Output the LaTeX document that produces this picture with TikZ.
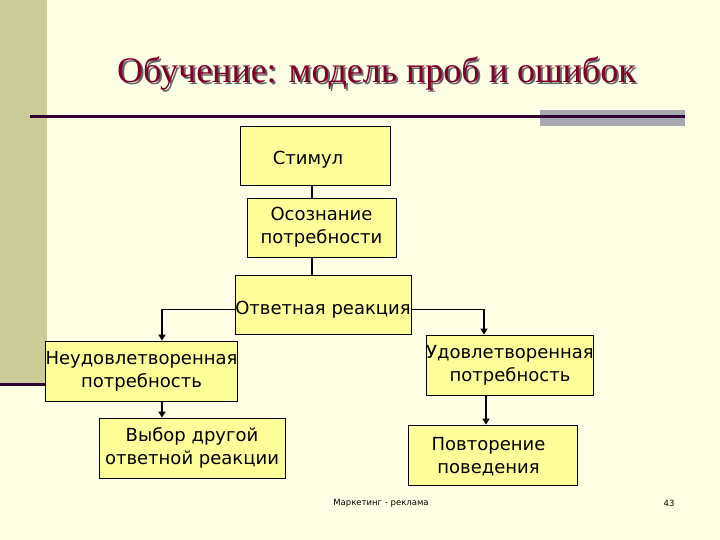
\documentclass[tikz,border=0pt]{standalone}
\usepackage{fontspec}
\setmainfont{DejaVu Sans}
\newfontfamily\titlefont{Liberation Serif}
\usepackage{tikz}
\usetikzlibrary{arrows.meta,positioning}
\definecolor{slidebg}{HTML}{FFFFE5}
\definecolor{sidebar}{HTML}{CCCC99}
\definecolor{rulecol}{HTML}{330033}
\definecolor{greybar}{HTML}{A8A8B0}
\definecolor{boxfill}{HTML}{FFFF99}
\definecolor{titlecol}{HTML}{800028}

\begin{document}
\begin{tikzpicture}[
  x=1pt, y=-1pt,
  font=\fontsize{18}{23}\selectfont,
  box/.style={draw, fill=boxfill, align=center, inner sep=0pt, line width=0.8pt},
  link/.style={line width=1.8pt},
  arr/.style={line width=1.8pt, -{Triangle[length=6pt,width=7pt]}},
]
% slide background and decoration
\fill[slidebg] (0,0) rectangle (720,540);
\useasboundingbox (0,0) rectangle (720,540);
\fill[sidebar] (0,0) rectangle (47,384);
\draw[rulecol, line width=3pt] (0,384) -- (48,384);
\fill[greybar] (540,110) rectangle (685,126);
\draw[rulecol, line width=3pt] (30,117) -- (685,117);

% title
\node[font=\titlefont\fontsize{36}{42}\selectfont, text=gray!80!black] (titleshadow) at (378.5,75.5) {Обучение: модель проб и ошибок};
\node[font=\titlefont\fontsize{36}{42}\selectfont, text=titlecol] (title) at (376.5,73.5) {Обучение: модель проб и ошибок};

% boxes
\node[box, minimum width=150, minimum height=59, text height=17.5pt, text depth=0pt] (stim) at (315,155.5) {\hspace*{-14pt}Стимул};
\node[box, minimum width=149, minimum height=59] (aware) at (321.5,227.5) {Осознание\\потребности};
\node[box, minimum width=176, minimum height=59, text height=19pt, text depth=0pt] (resp) at (323,304.5) {Ответная реакция};
\node[box, minimum width=187, minimum height=60] (unsat) at (141.5,371) {Неудовлетворенная\\потребность};
\node[box, minimum width=186, minimum height=60] (alt) at (192,448) {Выбор другой\\ответной реакции};
\node[box, minimum width=166, minimum height=60] (sat) at (510,365) {Удовлетворенная\\потребность};
\node[box, minimum width=169, minimum height=60, text depth=0pt] (rep) at (492.5,455) {\hspace*{-8pt}Повторение\\\hspace*{-8pt}поведения};

% connectors
\draw[link] ([xshift=-3pt]stim.south) -- ([xshift=-3pt]stim.south |- aware.north);
\draw[link] ([xshift=-9.5pt]aware.south) -- ([xshift=-9.5pt]aware.south |- resp.north);
\draw[arr] ([yshift=-5pt]resp.west) -| ([xshift=20.5pt]unsat.north);
\draw[arr] ([yshift=-5pt]resp.east) -| ([xshift=-26pt]sat.north);
\draw[arr] ([xshift=20.5pt]unsat.south) -- ([xshift=20.5pt]unsat.south |- alt.north);
\draw[arr] ([xshift=-24pt]sat.south) -- ([xshift=-24pt]sat.south |- rep.north);

% footer
\node[font=\fontsize{8.5}{10}\selectfont] (foot) at (381,503) {Маркетинг - реклама};
\node[font=\fontsize{8.5}{10}\selectfont] (pageno) at (669,503) {43};
\end{tikzpicture}
\end{document}
